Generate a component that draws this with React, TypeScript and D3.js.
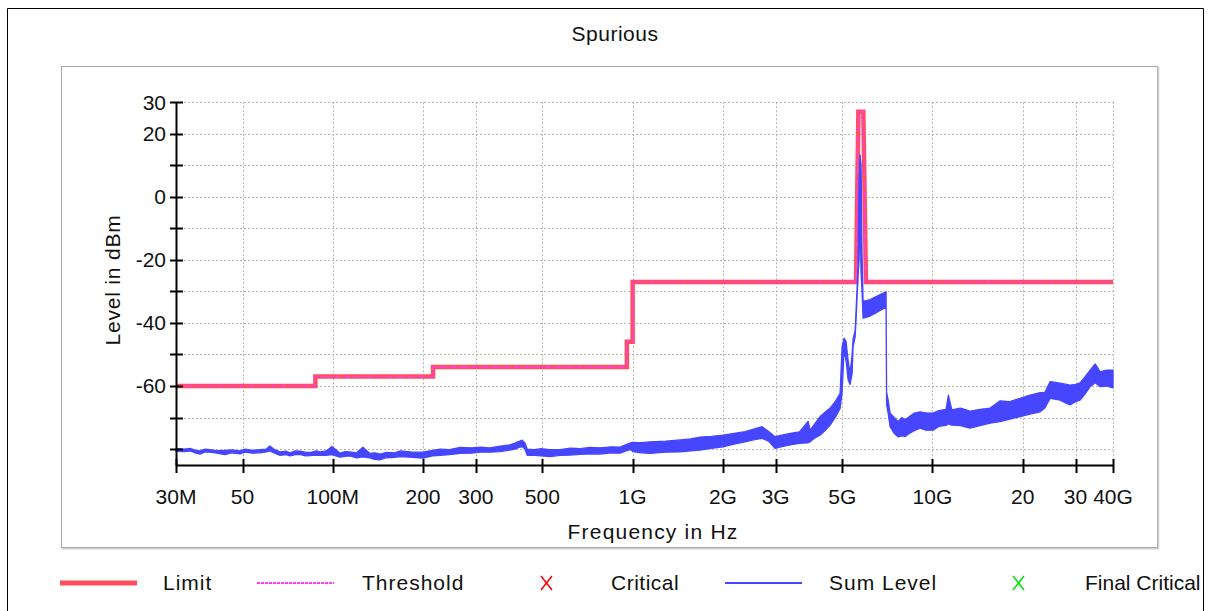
import React from 'react';
import * as d3 from 'd3';

const xTickValues = [30, 50, 100, 200, 300, 500, 1000, 2000, 3000, 5000, 10000, 20000, 30000, 40000];
const xTickLabels = ['30M', '50', '100M', '200', '300', '500', '1G', '2G', '3G', '5G', '10G', '20', '30', '40G'];
const yTickValues = [-80, -70, -60, -50, -40, -30, -20, -10, 0, 10, 20, 30];
const yLabelValues = [30, 20, 0, -20, -40, -60];

const limitFreq = [30, 87.5, 87.5, 216, 216, 957, 957, 1000, 1000, 5560, 5660, 5880, 6000, 40000];
const limitLevel = [-60, -60, -57, -57, -54, -54, -46, -46, -27, -27, 27, 27, -27, -27];

const sumFreq = [30, 32, 33.4, 35, 36.1, 37.5, 38.9, 41, 43.7, 46, 49.1, 51, 54, 57.2, 60, 61.7, 64, 66.7, 70, 72, 75, 77.8, 81, 84, 88, 90.7, 95, 99.4, 105.7, 110, 114, 120, 126, 133, 138, 144, 150, 161, 168, 185, 200, 215, 228, 245, 266, 290, 310, 335, 361, 385, 405, 418, 428, 437, 445, 470, 495, 530, 573, 620, 668, 720, 779, 850, 908, 960, 990, 1000, 1070, 1143, 1290, 1440, 1560, 1679, 1830, 2000, 2180, 2372, 2550, 2703, 2850, 2985, 3150, 3351, 3600, 3848, 3907, 4050, 4218, 4400, 4557, 4750, 4920, 4996, 5073, 5152, 5232, 5313, 5395, 5436, 5520, 5562, 5605, 5648, 5691, 5735, 5779, 5823, 5868, 5960, 6194, 6437, 6688, 7003, 7030, 7113, 7222, 7450, 7682, 7900, 8107, 8400, 8700, 9095, 9500, 10051, 10500, 11100, 11300, 11600, 12400, 13350, 14400, 15570, 16816, 18000, 19610, 21000, 22870, 23700, 24700, 26660, 28000, 28780, 30000, 31070, 32300, 33560, 34880, 36240, 38000, 40000];
const sumHigh = [-79.9, -80.0, -79.8, -80.4, -80.6, -80.0, -80.2, -80.5, -80.4, -80.3, -80.6, -80.0, -80.4, -80.2, -80.0, -79.0, -80.2, -80.9, -80.7, -81.2, -80.6, -80.7, -81.0, -81.1, -80.6, -80.9, -80.6, -79.2, -81.3, -80.8, -80.9, -81.2, -79.4, -81.4, -81.2, -81.6, -81.1, -81.2, -80.6, -81.0, -81.0, -80.4, -80.0, -80.2, -79.5, -79.6, -79.4, -79.6, -79.1, -78.8, -78.1, -77.6, -77.2, -78.0, -80.0, -80.2, -79.9, -80.2, -80.2, -79.7, -79.9, -79.5, -79.6, -79.3, -79.4, -78.4, -78.0, -77.9, -78.0, -77.7, -77.5, -77.1, -76.8, -76.2, -76.0, -75.6, -75.0, -74.5, -73.6, -72.9, -74.5, -76.1, -75.6, -75.0, -74.6, -71.2, -74.0, -72.0, -69.7, -68.2, -67.0, -64.8, -62.3, -47.5, -44.8, -46.0, -52.0, -56.0, -50.0, -45.0, -42.5, -36.0, -29.0, -22.0, 5.0, 13.3, 10.0, -18.0, -33.0, -33.0, -32.6, -31.8, -31.0, -30.1, -62.0, -64.4, -68.6, -70.0, -71.3, -70.0, -70.7, -69.6, -68.6, -68.2, -68.5, -68.6, -67.8, -67.4, -62.9, -67.6, -67.0, -68.0, -67.4, -67.0, -64.7, -65.0, -63.9, -63.0, -62.1, -62.0, -58.6, -59.1, -59.5, -59.7, -59.5, -59.0, -57.0, -55.0, -53.0, -55.5, -55.0, -55.0];
const sumLow = [-80.7, -80.8, -80.6, -81.3, -81.6, -80.9, -81.0, -81.3, -81.8, -81.2, -81.5, -81.0, -81.3, -81.2, -80.9, -80.6, -81.3, -82.0, -81.8, -82.2, -81.8, -81.7, -82.2, -82.1, -81.9, -82.0, -82.0, -81.8, -82.6, -82.3, -82.2, -82.8, -82.5, -82.8, -83.3, -83.4, -82.8, -82.6, -82.4, -82.6, -82.9, -82.2, -82.0, -81.8, -81.4, -81.3, -81.0, -81.0, -80.8, -80.4, -80.0, -79.5, -79.2, -80.0, -82.0, -82.0, -82.2, -82.4, -82.0, -81.9, -81.7, -81.5, -81.6, -81.2, -81.3, -80.4, -80.2, -80.8, -81.2, -81.4, -81.0, -80.9, -80.6, -80.3, -79.8, -79.3, -78.4, -77.7, -77.0, -76.6, -77.6, -79.8, -79.2, -78.7, -78.2, -78.0, -77.7, -76.5, -75.6, -74.0, -72.4, -69.8, -67.1, -62.0, -48.5, -52.0, -58.0, -59.5, -56.0, -47.5, -44.5, -39.0, -32.0, -25.0, -20.0, -5.0, -24.0, -30.0, -38.5, -38.3, -37.8, -37.0, -36.0, -35.0, -66.0, -68.5, -72.9, -75.0, -76.1, -75.8, -76.0, -75.0, -74.2, -73.4, -74.0, -74.0, -72.8, -72.5, -72.0, -72.4, -72.6, -73.4, -72.6, -71.8, -71.3, -70.6, -69.7, -69.0, -68.2, -67.0, -63.9, -64.5, -65.5, -66.0, -65.0, -64.5, -62.5, -60.2, -59.0, -60.2, -60.0, -60.6];

const legendLabels = ['Limit', 'Threshold', 'Critical', 'Sum Level', 'Final Critical'];

const FONT = '"Liberation Sans", Arial, sans-serif';
const RED = '#FF4F5A';
const MAGENTA = '#FF3CFF';
const BLUE = '#4646FF';

export default function App() {
  const x = d3.scaleLog().domain([30, 40000]).range([176, 1113]);
  const y = d3.scaleLinear().domain([-85, 30]).range([464.8, 102.3]);
  const [x0, x1] = x.range();
  const [yb, yt] = y.range();

  const limitData = limitFreq.map((f, i) => ({ f, v: limitLevel[i] }));
  const limitPath = d3.line<{ f: number; v: number }>().x(d => x(d.f)).y(d => y(d.v))(limitData) || '';

  const sumData = sumFreq.map((f, i) => ({ f, hi: sumHigh[i], lo: sumLow[i] }));
  const sumArea = d3.area<{ f: number; hi: number; lo: number }>()
    .x(d => x(d.f)).y0(d => y(d.lo)).y1(d => y(d.hi))(sumData) || '';

  const legendY = 583;
  const legendText = [163, 362, 611, 829, 1085];
  const legendSpacing = [1, 1, 0.5, 1, 0];

  return (
    <svg width={1209} height={611} style={{ position: 'absolute', left: 0, top: 0, background: '#fff' }}
      fontFamily={FONT}>
      <rect x={0} y={0} width={1209} height={611} fill="#fff" />
      {/* outer frame */}
      <path d="M7.5,611 L7.5,8.5 L1203.5,8.5 L1203.5,611" fill="none" stroke="#000" strokeWidth={1} />
      {/* panel */}
      <rect x={61.5} y={66.5} width={1096} height={481} fill="#fff" stroke="#A8A8A8" strokeWidth={1} />
      <line x1={1158.5} y1={67} x2={1158.5} y2={549} stroke="#D0D0D0" strokeWidth={1.5} />
      <line x1={62} y1={548.8} x2={1159} y2={548.8} stroke="#D0D0D0" strokeWidth={1.5} />

      <text x={615} y={40.5} textAnchor="middle" fontSize={21} letterSpacing={0.5} fill="#111">Spurious</text>

      {/* grid */}
      <g stroke="#B4B4B4" strokeWidth={1} strokeDasharray="2,2">
        {yTickValues.map(v => (
          <line key={'gy' + v} x1={x0} x2={x1} y1={Math.round(y(v)) + 0.5} y2={Math.round(y(v)) + 0.5} />
        ))}
        {xTickValues.slice(1).map(f => (
          <line key={'gx' + f} x1={Math.round(x(f)) + 0.5} x2={Math.round(x(f)) + 0.5} y1={yt} y2={yb} />
        ))}
      </g>

      {/* limit + threshold */}
      <path d={limitPath} fill="none" stroke={RED} strokeWidth={4.5} strokeLinejoin="miter" />
      <path d={limitPath} fill="none" stroke={MAGENTA} strokeWidth={1.5} strokeDasharray="5,2,1.5,2" />

      {/* sum level */}
      <path d={sumArea} fill={BLUE} stroke={BLUE} strokeWidth={1.3} strokeLinejoin="round" />

      {/* axes */}
      <line x1={176.5} x2={176.5} y1={yt} y2={yb + 1} stroke="#000" strokeWidth={2} />
      <line x1={x0} x2={x1 + 1} y1={465.5} y2={465.5} stroke="#000" strokeWidth={2} />
      {yTickValues.map(v => (
        <line key={'ty' + v} x1={170} x2={183} y1={Math.round(y(v)) + 0.5} y2={Math.round(y(v)) + 0.5} stroke="#000" strokeWidth={2} />
      ))}
      {xTickValues.map(f => (
        <line key={'tx' + f} x1={Math.round(x(f)) + 0.5} x2={Math.round(x(f)) + 0.5} y1={459} y2={473} stroke="#000" strokeWidth={2} />
      ))}
      {yLabelValues.map(v => (
        <text key={'ly' + v} x={166} y={y(v) + 7.5} textAnchor="end" fontSize={21} fill="#111">{String(v)}</text>
      ))}
      {xTickValues.map((f, i) => (
        <text key={'lx' + f} x={x(f)} y={504} textAnchor="middle" fontSize={21} fill="#111">{xTickLabels[i]}</text>
      ))}

      <text x={653} y={539} textAnchor="middle" fontSize={21} letterSpacing={1.2} fill="#111">Frequency in Hz</text>
      <text transform="translate(120,280) rotate(-90)" textAnchor="middle" fontSize={21} letterSpacing={0.8} fill="#111">Level in dBm</text>

      {/* legend */}
      <line x1={60} x2={137} y1={legendY} y2={legendY} stroke={RED} strokeWidth={5} />
      <line x1={257} x2={334} y1={legendY} y2={legendY} stroke={MAGENTA} strokeWidth={2} strokeDasharray="3,1" />
      <g stroke="#FF0000" strokeWidth={1.5}>
        <line x1={541} x2={552} y1={576} y2={590} />
        <line x1={552} x2={541} y1={576} y2={590} />
      </g>
      <line x1={725} x2={802} y1={legendY} y2={legendY} stroke={BLUE} strokeWidth={2} />
      <g stroke="#00E000" strokeWidth={1.5}>
        <line x1={1013} x2={1024} y1={576} y2={590} />
        <line x1={1024} x2={1013} y1={576} y2={590} />
      </g>
      {legendLabels.map((t, i) => (
        <text key={t} x={legendText[i]} y={590} fontSize={21} letterSpacing={legendSpacing[i]} fill="#111">{t}</text>
      ))}
    </svg>
  );
}
